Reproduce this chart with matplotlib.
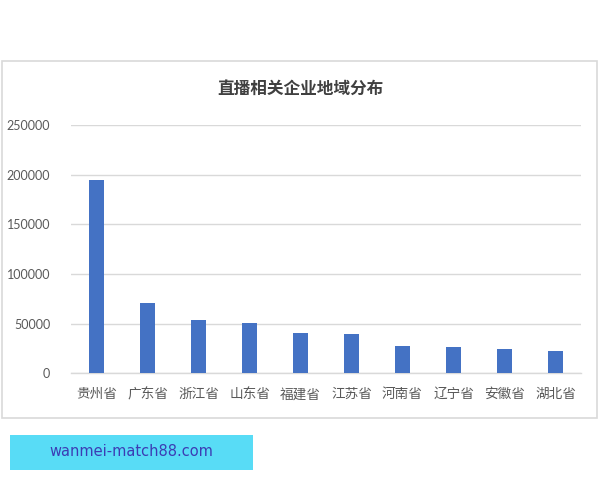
import matplotlib
matplotlib.use('Agg')
import matplotlib.pyplot as plt
from matplotlib.patches import Rectangle

plt.rcParams['font.family'] = ['Noto Sans CJK SC', 'DejaVu Sans']

# data
provinces = ['贵州省', '广东省', '浙江省', '山东省', '福建省', '江苏省', '河南省', '辽宁省', '安徽省', '湖北省']
companies = [195000, 71000, 53300, 51000, 40600, 40000, 27300, 26300, 24700, 22300]
yticks = [0, 50000, 100000, 150000, 200000, 250000]

title = '直播相关企业地域分布'
watermark = 'wanmei-match88.com'

fig = plt.figure(figsize=(6, 4.8), dpi=100)
fig.patch.set_facecolor('white')

# chart frame
fig.patches.append(Rectangle((2 / 600, 1 - 418 / 480), 595 / 600, 357 / 480,
                             transform=fig.transFigure, fill=False,
                             edgecolor='#d9d9d9', linewidth=1.2))

ax = fig.add_axes([71 / 600, 1 - 373.3 / 480, 510 / 600, 248.3 / 480])
x = range(len(provinces))
ax.bar(x, companies, width=0.31, color='#4472c4', zorder=3)

ax.set_xlim(-0.5, len(provinces) - 0.5)
ax.set_ylim(0, 250000)
ax.set_yticks(yticks)
ax.set_yticklabels([str(v) for v in yticks], fontfamily='Lato', fontsize=9, color='#595959')
ax.set_xticks(list(x))
ax.set_xticklabels(provinces, fontsize=9.8, color='#595959')
ax.tick_params(axis='y', length=0, pad=15)
ax.tick_params(axis='x', length=0, pad=10)
ax.grid(axis='y', color='#d9d9d9', linewidth=1, zorder=0)
for s in ['top', 'right', 'left']:
    ax.spines[s].set_visible(False)
ax.spines['bottom'].set_color('#d9d9d9')
ax.spines['bottom'].set_linewidth(1)

fig.text(0.5, 1 - 89 / 480, title, ha='center', va='center',
         fontsize=12, fontweight='bold', color='#404040')

# watermark box
fig.patches.append(Rectangle((10 / 600, 1 - 470 / 480), 243 / 600, 35 / 480,
                             transform=fig.transFigure, facecolor='#58dcf6',
                             edgecolor='none'))
fig.text(131 / 600, 1 - 452 / 480, watermark, ha='center', va='center',
         fontsize=10.5, color='#3c3cb4', fontfamily='DejaVu Sans')

fig.savefig('out.png', dpi=100)
